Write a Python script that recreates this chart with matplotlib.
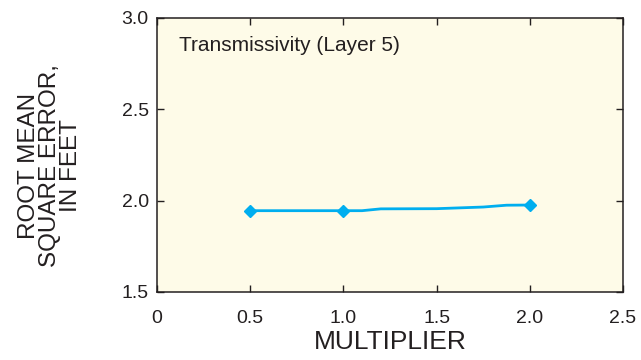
import matplotlib
matplotlib.use("Agg")
import matplotlib.pyplot as plt

multiplier = [0.5, 1.0, 1.1, 1.2, 1.5, 1.75, 1.875, 2.0]
rmse = [1.945, 1.945, 1.945, 1.955, 1.956, 1.965, 1.975, 1.976]
marker_x = [0.5, 1.0, 2.0]
marker_y = [1.945, 1.945, 1.976]

x_ticks = [0, 0.5, 1.0, 1.5, 2.0, 2.5]
x_labels = ["0", "0.5", "1.0", "1.5", "2.0", "2.5"]
y_ticks = [1.5, 2.0, 2.5, 3.0]
y_labels = ["1.5", "2.0", "2.5", "3.0"]

plt.rcParams["font.family"] = ["Liberation Sans", "DejaVu Sans"]

fig = plt.figure(figsize=(6.41, 3.6), dpi=100)
ax = fig.add_axes([0.245, 0.189, 0.727, 0.761])
ax.set_facecolor("#fefbe8")

blue = "#00aeef"
ax.plot(multiplier, rmse, color=blue, lw=2, zorder=2)
ax.plot(marker_x, marker_y, ls="none", marker="D", ms=6.5, color=blue, zorder=3)

ax.set_xlim(0, 2.5)
ax.set_ylim(1.5, 3.0)
ax.set_xticks(x_ticks)
ax.set_xticklabels(x_labels)
ax.set_yticks(y_ticks)
ax.set_yticklabels(y_labels)
ax.tick_params(direction="in", top=True, right=True, length=5, width=1,
               labelsize=14, colors="#231f20")
ax.tick_params(axis="x", pad=13)
ax.tick_params(axis="y", pad=6)
for s in ax.spines.values():
    s.set_linewidth(1.1)
    s.set_color("#231f20")

ax.text(0.047, 0.898, "Transmissivity (Layer 5)", transform=ax.transAxes,
        fontsize=15, color="#231f20", va="center", ha="left")

ax.set_xlabel("MULTIPLIER", fontsize=19, color="#231f20", labelpad=2)
fig.text(0.078, 0.54, "ROOT MEAN\nSQUARE ERROR,\nIN FEET", rotation=90,
         ha="center", va="center", fontsize=17.5, color="#231f20",
         linespacing=0.95, multialignment="center")

fig.savefig("out.png", dpi=100, facecolor="white")
